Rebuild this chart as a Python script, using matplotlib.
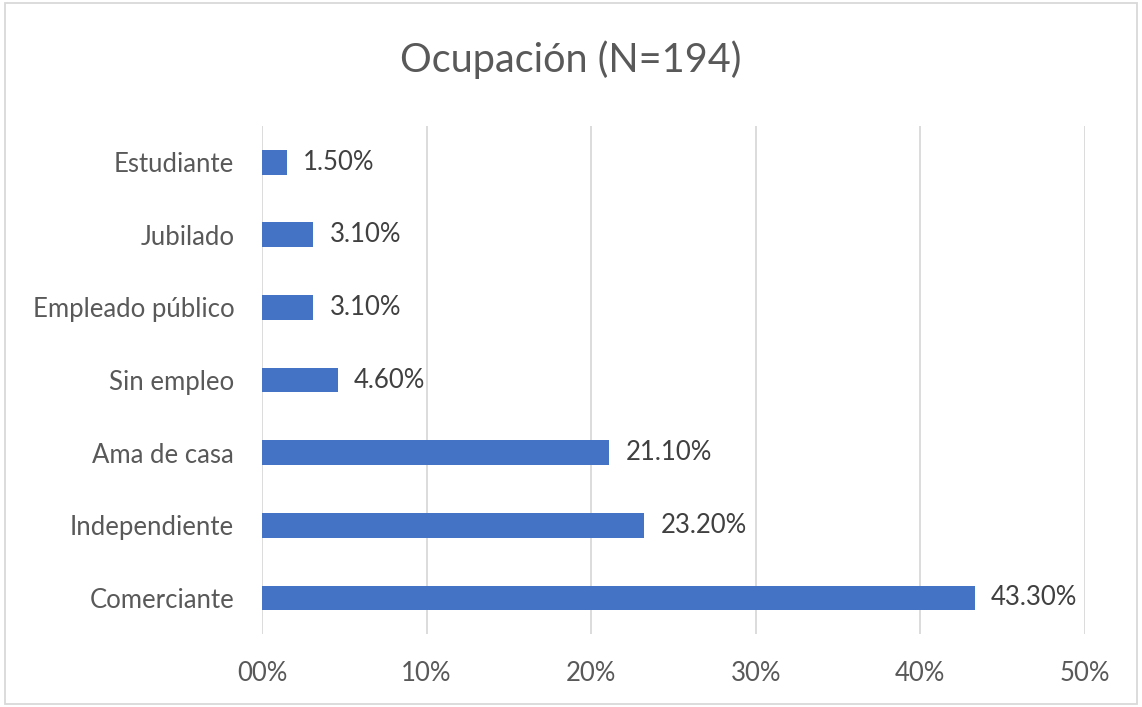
import matplotlib.pyplot as plt
from matplotlib.patches import Rectangle

categories = ["Comerciante", "Independiente", "Ama de casa", "Sin empleo",
              "Empleado público", "Jubilado", "Estudiante"]
values = [43.3, 23.2, 21.1, 4.6, 3.1, 3.1, 1.5]
xticks = [0, 10, 20, 30, 40, 50]
xtick_labels = ["00%", "10%", "20%", "30%", "40%", "50%"]

plt.rcParams['font.family'] = ['Lato', 'DejaVu Sans']

fig = plt.figure(figsize=(11.42, 7.07), dpi=100)
ax = fig.add_axes([0.2294, 0.103, 0.7206, 0.719])

y = range(len(categories))
ax.barh(y, values, height=0.34, color="#4472C4", zorder=3)

for i, v in enumerate(values):
    ax.text(v + 1.0, i, f"{v:.2f}%", va="center", ha="left",
            fontsize=18.5, color="#404040")

ax.set_xlim(0, 50)
ax.set_ylim(-0.5, 6.5)
ax.set_yticks(list(y))
ax.set_yticklabels(categories, fontsize=18.5, color="#595959")
ax.set_xticks(xticks)
ax.set_xticklabels(xtick_labels, fontsize=18.5, color="#595959")
ax.tick_params(length=0, pad=20, axis="y")
ax.tick_params(length=0, pad=19, axis="x")

ax.grid(axis="x", color="#D9D9D9", linewidth=1.3, zorder=0)
for s in ax.spines.values():
    s.set_visible(False)

fig.text(0.5, 0.915, "Ocupación (N=194)", ha="center", va="center",
         fontsize=28.5, color="#595959")

fig.patches.append(Rectangle((0.004, 0.004), 0.992, 0.992, transform=fig.transFigure,
                             fill=False, edgecolor="#D9D9D9", linewidth=1.3))

fig.savefig("out.png", dpi=100)
